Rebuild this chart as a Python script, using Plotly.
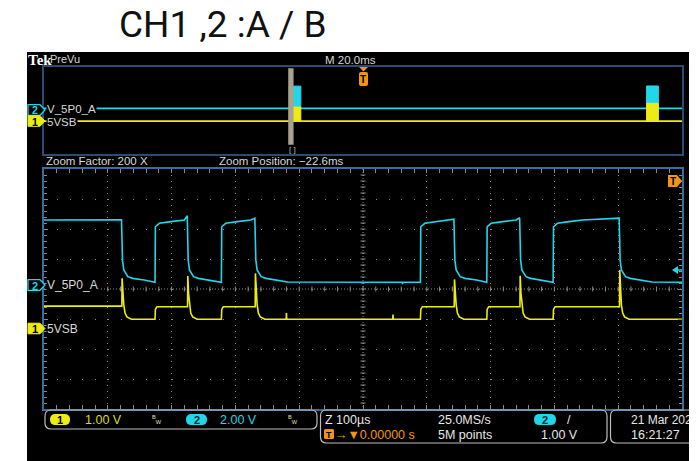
import plotly.graph_objects as go

W, H = 697, 461
OFF = 8                      # page body margin
FW, FH = W - OFF, H - OFF    # figure size so it ends at the window edge

# ---------------- data ----------------
title_text = "CH1 ,2 :A / B"
ch2_name = "V_5P0_A"
ch1_name = "5VSB"

# zoomed window: Z 100 us/div, 10 div -> -500..500 us
ch2_fall_us = [-378, -275, -169, 143, 246, 402]
ch2_rise_us = [-326, -222, 90, 194, 298]
ch2_start_v = 4.40
ch2_low_v = 0.25
ch2_pre_fall_v = [4.42, 4.68, 4.52, 4.45, 4.55, 4.52]
ch2_fall_dt_us = [1.0, 3.0, 9.4, 17.0, 35.0, 51.0]
ch2_fall_tail_v = [1.73, 1.07, 0.62, 0.51, 0.40, 0.27]
ch2_rise_dt_us = [0.6, 6.8, 25.0, 46.0]
ch2_rise_tail_v = [3.95, 4.18, 4.29, 4.40]
ch2_glitch_us = [62]
ch2_glitch_v = [0.12]

ch1_start_v = 0.73
ch1_high_v = 0.71
ch1_low_v = 0.29
ch1_spike_v = [1.66, 1.73, 1.82, 1.62, 1.74, 1.93]
ch1_spike_dt_us = 0.4
ch1_fall_dt_us = [1.6, 3.0, 5.0, 8.0, 15.0]
ch1_fall_tail_v = [1.15, 0.78, 0.50, 0.37, 0.29]
ch1_rise_dt_us = [0.6, 3.0]
ch1_rise_tail_v = [0.62, 0.71]
ch1_glitch_us = [-120, 47]
ch1_glitch_v = [0.50, 0.45]

# PreVu record: M 20.0 ms/div, -100..100 ms
pre_burst_start_ms = [-23.1, 88.9]
pre_burst_end_ms = [-19.5, 92.6]
pre_ch2_base_v = 0.27
pre_ch2_max_v = [4.35, 4.38]
pre_ch1_base_v = 0.29
pre_ch1_max_v = [1.58, 1.92]
zoom_position_ms = -22.6
zoom_width_ms = 1.0

# ---------------- build waveforms ----------------
def build_ch2():
    t, v = [-500.0], [ch2_start_v]
    ev = sorted([(x, "f", i) for i, x in enumerate(ch2_fall_us)] +
                [(x, "r", i) for i, x in enumerate(ch2_rise_us)])
    for x, kind, i in ev:
        if kind == "f":
            t.append(x - 0.5); v.append(ch2_pre_fall_v[i])
            t += [x + d for d in ch2_fall_dt_us]; v += ch2_fall_tail_v
        else:
            t.append(x); v.append(ch2_low_v)
            t += [x + d for d in ch2_rise_dt_us]; v += ch2_rise_tail_v
    t.append(500.0); v.append(ch2_low_v)
    for gx, gv in zip(ch2_glitch_us, ch2_glitch_v):
        t += [gx - 0.4, gx, gx + 0.4]; v += [ch2_low_v, gv, ch2_low_v]
    o = sorted(range(len(t)), key=lambda k: t[k])
    return [t[k] for k in o], [v[k] for k in o]


def build_ch1():
    t, v = [-500.0], [ch1_start_v]
    ev = sorted([(x, "f", i) for i, x in enumerate(ch2_fall_us)] +
                [(x, "r", i) for i, x in enumerate(ch2_rise_us)])
    for x, kind, i in ev:
        if kind == "f":
            t.append(x); v.append(ch1_high_v if i else ch1_start_v)
            t.append(x + ch1_spike_dt_us); v.append(ch1_spike_v[i])
            t += [x + d for d in ch1_fall_dt_us]; v += ch1_fall_tail_v
        else:
            t.append(x); v.append(ch1_low_v)
            t += [x + d for d in ch1_rise_dt_us]; v += ch1_rise_tail_v
    t.append(500.0); v.append(ch1_low_v)
    for gx, gv in zip(ch1_glitch_us, ch1_glitch_v):
        t += [gx - 0.4, gx, gx + 0.4]; v += [ch1_low_v, gv, ch1_low_v]
    o = sorted(range(len(t)), key=lambda k: t[k])
    return [t[k] for k in o], [v[k] for k in o]


t2, v2 = build_ch2()
t1, v1 = build_ch1()

CYAN = "#22d6ea"
YEL = "#ecec14"
ORANGE = "#f39419"
GRID = "#8a8a8a"
TXT = "#d8d8d8"
FONT = "Liberation Sans, Arial, sans-serif"


def PX(x):
    return (x - OFF) / FW


def PY(y):
    return 1 - (y - OFF) / FH


fig = go.Figure()

# preview traces
pre_t2 = [-100.0]
pre_v2 = [pre_ch2_base_v]
pre_t1 = [-100.0]
pre_v1 = [pre_ch1_base_v]
for s, e in zip(pre_burst_start_ms, pre_burst_end_ms):
    pre_t2 += [s, e]; pre_v2 += [pre_ch2_base_v, pre_ch2_base_v]
    pre_t1 += [s, e]; pre_v1 += [pre_ch1_base_v, pre_ch1_base_v]
pre_t2.append(100.0); pre_v2.append(pre_ch2_base_v)
pre_t1.append(100.0); pre_v1.append(pre_ch1_base_v)

fig.add_trace(go.Scatter(x=pre_t2, y=pre_v2, xaxis="x2", yaxis="y2", mode="lines",
                         line=dict(color=CYAN, width=1.8), hoverinfo="skip"))
for s, e, m in zip(pre_burst_start_ms, pre_burst_end_ms, pre_ch2_max_v):
    fig.add_trace(go.Scatter(x=[s, s, e, e], y=[pre_ch2_base_v, m, m, pre_ch2_base_v],
                             xaxis="x2", yaxis="y2", mode="lines", fill="toself",
                             fillcolor=CYAN, line=dict(color=CYAN, width=1), hoverinfo="skip"))
fig.add_trace(go.Scatter(x=pre_t1, y=pre_v1, xaxis="x2", yaxis="y4", mode="lines",
                         line=dict(color=YEL, width=1.8), hoverinfo="skip"))
for s, e, m in zip(pre_burst_start_ms, pre_burst_end_ms, pre_ch1_max_v):
    fig.add_trace(go.Scatter(x=[s, s, e, e], y=[pre_ch1_base_v, m, m, pre_ch1_base_v],
                             xaxis="x2", yaxis="y4", mode="lines", fill="toself",
                             fillcolor=YEL, line=dict(color=YEL, width=1), hoverinfo="skip"))

# main traces
fig.add_trace(go.Scatter(x=t2, y=v2, xaxis="x", yaxis="y", mode="lines",
                         line=dict(color=CYAN, width=1.6), hoverinfo="skip"))
fig.add_trace(go.Scatter(x=t1, y=v1, xaxis="x", yaxis="y3", mode="lines",
                         line=dict(color=YEL, width=1.6), hoverinfo="skip"))

shapes = []
# black scope screen
shapes.append(dict(type="rect", xref="paper", yref="paper", x0=PX(27), x1=PX(705),
                   y0=PY(470), y1=PY(52), fillcolor="black", line=dict(width=0), layer="below"))

# center cross (denser dots) + ticks
cx, cy = 363, 289
shapes.append(dict(type="line", xref="paper", yref="paper", x0=PX(cx), x1=PX(cx),
                   y0=PY(169), y1=PY(409), line=dict(color=GRID, width=1, dash="1px,2px"), layer="below"))
shapes.append(dict(type="line", xref="paper", yref="paper", x0=PX(44), x1=PX(682),
                   y0=PY(cy), y1=PY(cy), line=dict(color=GRID, width=1, dash="1px,2px"), layer="below"))
for k in range(1, 40):
    yy = 169 + k * 6
    shapes.append(dict(type="line", xref="paper", yref="paper", x0=PX(cx - 2.5), x1=PX(cx + 2.5),
                       y0=PY(yy), y1=PY(yy), line=dict(color=GRID, width=1), layer="below"))
for k in range(1, 50):
    xx = 44 + k * 638 / 50
    shapes.append(dict(type="line", xref="paper", yref="paper", x0=PX(xx), x1=PX(xx),
                       y0=PY(cy - 2.5), y1=PY(cy + 2.5), line=dict(color=GRID, width=1), layer="below"))

# zoom window bar on preview
shapes.append(dict(type="rect", xref="x2", yref="paper",
                   x0=zoom_position_ms - 0.6 * zoom_width_ms, x1=zoom_position_ms + 0.6 * zoom_width_ms,
                   y0=PY(144), y1=PY(69), fillcolor="#aaa290", line=dict(color="#aaa290", width=1.5)))


def rrect(x0, y0, x1, y1, r):
    X0, X1, Yt, Yb = PX(x0), PX(x1), PY(y0), PY(y1)
    rx, ry = r / FW, r / FH
    return (f"M {X0+rx},{Yt} L {X1-rx},{Yt} Q {X1},{Yt} {X1},{Yt-ry} L {X1},{Yb+ry} "
            f"Q {X1},{Yb} {X1-rx},{Yb} L {X0+rx},{Yb} Q {X0},{Yb} {X0},{Yb+ry} "
            f"L {X0},{Yt-ry} Q {X0},{Yt} {X0+rx},{Yt} Z")


def marker(yc):
    x0, x1, tip, h = 28, 40, 45, 5.3
    return (f"M {PX(x0)},{PY(yc-h)} L {PX(x1)},{PY(yc-h)} L {PX(tip)},{PY(yc)} "
            f"L {PX(x1)},{PY(yc+h)} L {PX(x0)},{PY(yc+h)} Z")


# channel markers
for yc in (285, 110):
    shapes.append(dict(type="path", xref="paper", yref="paper", path=marker(yc),
                       fillcolor="black", line=dict(color=CYAN, width=1.3)))
for yc in (328.5, 121):
    shapes.append(dict(type="path", xref="paper", yref="paper", path=marker(yc),
                       fillcolor=YEL, line=dict(color=YEL, width=1)))

# status boxes
BOX = "#bdbdbd"
shapes.append(dict(type="path", xref="paper", yref="paper", path=rrect(45, 410, 317, 429, 6),
                   line=dict(color=BOX, width=1.2)))
shapes.append(dict(type="path", xref="paper", yref="paper", path=rrect(320.5, 410, 607, 443, 6),
                   line=dict(color=BOX, width=1.2)))
shapes.append(dict(type="path", xref="paper", yref="paper", path=rrect(610.5, 410, 712, 443, 6),
                   line=dict(color=BOX, width=1.2)))
# pills
shapes.append(dict(type="path", xref="paper", yref="paper", path=rrect(50, 414, 70, 425, 5.5),
                   fillcolor=YEL, line=dict(width=0)))
shapes.append(dict(type="path", xref="paper", yref="paper", path=rrect(186, 414, 207, 425, 5.5),
                   fillcolor=CYAN, line=dict(width=0)))
shapes.append(dict(type="path", xref="paper", yref="paper", path=rrect(534, 414, 556, 425, 5.5),
                   fillcolor=CYAN, line=dict(width=0)))
# trigger icons
shapes.append(dict(type="path", xref="paper", yref="paper", path=rrect(359, 72, 368, 86, 2),
                   fillcolor=ORANGE, line=dict(width=0)))
shapes.append(dict(type="path", xref="paper", yref="paper",
                   path=f"M {PX(359)},{PY(67)} L {PX(368)},{PY(67)} L {PX(363.5)},{PY(71.5)} Z",
                   fillcolor=ORANGE, line=dict(width=0)))
shapes.append(dict(type="path", xref="paper", yref="paper",
                   path=f"M {PX(668)},{PY(175)} L {PX(677)},{PY(175)} L {PX(682)},{PY(181)} L {PX(677)},{PY(187)} L {PX(668)},{PY(187)} Z",
                   fillcolor=ORANGE, line=dict(width=0)))
shapes.append(dict(type="path", xref="paper", yref="paper", path=rrect(324, 429, 334, 439, 1.5),
                   fillcolor=ORANGE, line=dict(width=0)))
# ch2 trigger level arrow
shapes.append(dict(type="path", xref="paper", yref="paper",
                   path=f"M {PX(672)},{PY(270)} L {PX(678)},{PY(266)} L {PX(678)},{PY(274)} Z",
                   fillcolor=CYAN, line=dict(width=0)))
shapes.append(dict(type="line", xref="paper", yref="paper", x0=PX(677), x1=PX(682),
                   y0=PY(270), y1=PY(270), line=dict(color=CYAN, width=1.5)))

annotations = []


def ann(x, y, text, color=TXT, size=12, anchor="left", bg=None, family=FONT):
    d = dict(xref="paper", yref="paper", x=PX(x), y=PY(y), text=text, showarrow=False,
             xanchor=anchor, yanchor="middle", font=dict(color=color, size=size, family=family),
             borderpad=0)
    if bg:
        d["bgcolor"] = bg
    annotations.append(d)


ann(222, 25, title_text, color="#111111", size=37, anchor="center", family="Roboto, Open Sans, sans-serif")
ann(27, 59.5, "<b>Tek</b>", color="white", size=15, family="Liberation Serif, serif")
ann(49, 59, "PreVu", size=11)
ann(324, 59.5, "M 20.0ms", size=11.5)
ann(45, 160.5, "Zoom Factor: 200 X", size=11.5)
ann(218, 160.5, "Zoom Position: \u221222.6ms", size=11.5)
ann(292.5, 149, "[ ]", size=8, anchor="center", color="#bbbbbb")

# channel labels
ann(46, 285, ch2_name, size=12, bg="black")
ann(46, 328.5, ch1_name, size=12, bg="black")
ann(46, 109, ch2_name, size=11.5, bg="black")
ann(46, 121.5, ch1_name, size=11.5, bg="black")
ann(34.5, 285.5, "<b>2</b>", color=CYAN, size=11, anchor="center")
ann(34.5, 329, "<b>1</b>", color="black", size=11, anchor="center")
ann(34.5, 110.5, "<b>2</b>", color=CYAN, size=10.5, anchor="center")
ann(34.5, 121.5, "<b>1</b>", color="black", size=10.5, anchor="center")
ann(363.5, 79.5, "<b>T</b>", color="black", size=10, anchor="center")
ann(672.5, 181.5, "<b>T</b>", color="black", size=10, anchor="center")

# status bar
ann(60, 420, "<b>1</b>", color="black", size=11, anchor="center")
ann(84, 420, "1.00 V", color="#dcdc10", size=12.5)
ann(151, 419, "<sup>B</sup><sub>W</sub>", color="#e8e0a0", size=8)
ann(196.5, 420, "<b>2</b>", color="#0a2a30", size=11, anchor="center")
ann(219, 420, "2.00 V", color=CYAN, size=12.5)
ann(287, 419, "<sup>B</sup><sub>W</sub>", color="#e8e0a0", size=8)
ann(323.5, 419.5, "Z 100\u00b5s", color="#e6e6e6", size=12.5)
ann(329, 434.5, "<b>T</b>", color="black", size=9, anchor="center")
ann(334, 434.5, "\u2192\u25bc0.00000 s", color=ORANGE, size=12.5)
ann(437, 419.5, "25.0MS/s", color="#e6e6e6", size=12.5)
ann(437, 434.5, "5M points", color="#e6e6e6", size=12.5)
ann(545, 420, "<b>2</b>", color="#0a2a30", size=11, anchor="center")
ann(566, 419.5, "/", color="#e6e6e6", size=12.5)
ann(540, 434.5, "1.00 V", color="#e6e6e6", size=12.5)
ann(630, 419.5, "21 Mar 2022", color="#e6e6e6", size=12)
ann(630, 434.5, "16:21:27", color="#e6e6e6", size=12.5)

main_xd = [PX(44), PX(682)]
main_yd = [PY(409), PY(169)]
pre_yd = [PY(154), PY(67)]

fig.update_layout(
    width=FW, height=FH, autosize=False,
    margin=dict(l=0, r=0, t=0, b=0),
    paper_bgcolor="white", plot_bgcolor="rgba(0,0,0,0)",
    showlegend=False,
    shapes=shapes, annotations=annotations,
    xaxis=dict(domain=main_xd, range=[-500, 500], anchor="y", showticklabels=False,
               tick0=-500, dtick=100, showgrid=True, gridcolor=GRID, gridwidth=1, griddash="1px,5px",
               zeroline=False, showline=True, linecolor="#3a6c9c", linewidth=1.5, mirror="allticks",
               ticks="inside", ticklen=4, tickcolor=GRID,
               minor=dict(ticks="inside", ticklen=3, tick0=-500, dtick=20, tickcolor=GRID, showgrid=False)),
    yaxis=dict(domain=main_yd, range=[-8.2, 7.8], anchor="x", showticklabels=False,
               tick0=-0.2, dtick=2, showgrid=True, gridcolor=GRID, gridwidth=1, griddash="1px,11.76px",
               zeroline=False, showline=True, linecolor="#3a6c9c", linewidth=1.5, mirror="allticks",
               ticks="inside", ticklen=4, tickcolor=GRID,
               minor=dict(ticks="inside", ticklen=3, tick0=-0.2, dtick=0.4, tickcolor=GRID, showgrid=False)),
    yaxis3=dict(domain=main_yd, range=[-2.7, 5.3], overlaying="y", anchor="x", visible=False),
    xaxis2=dict(domain=main_xd, range=[-100, 100], anchor="y2", showticklabels=False, showgrid=False,
                zeroline=False, showline=True, linecolor="#2a4c70", linewidth=1.5, mirror=True, ticks=""),
    yaxis2=dict(domain=pre_yd, range=[-8.13, 7.87], anchor="x2", showticklabels=False, showgrid=False,
                zeroline=False, showline=True, linecolor="#2a4c70", linewidth=1.5, mirror=True, ticks=""),
    yaxis4=dict(domain=pre_yd, range=[-2.74, 5.26], overlaying="y2", anchor="x2", visible=False),
)

fig.write_html("out.html",
               post_script="document.documentElement.style.overflow='hidden';document.body.style.overflow='hidden';")
